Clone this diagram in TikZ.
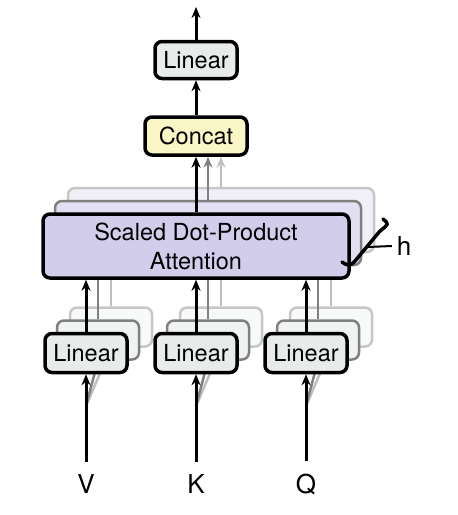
\documentclass[tikz,border=0pt]{standalone}
\usepackage{fontspec}
\setmainfont{TeX Gyre Heros}
\usetikzlibrary{calc,arrows.meta}
\definecolor{attfill}{HTML}{D1CDEB}
\definecolor{linfill}{HTML}{E7ECEB}
\definecolor{catfill}{HTML}{FBF6C5}
% the two copies that stand behind a box
\newcommand{\shadows}[4]{%
 \node[#3,layerc,fill=#4!30!white] (#1c) at ($(#2)+(25,-26)$) {};%
 \node[#3,layerb,fill=#4!65!white] (#1b) at ($(#2)+(12,-13)$) {};%
}
\tikzset{
 box/.style={draw=black,line width=3.5pt,rounded corners=7pt,inner sep=0pt,
  align=center,font=\fontsize{23.5}{29}\selectfont},
 linbox/.style={box,fill=linfill,minimum width=82pt,minimum height=39pt},
 attbox/.style={box,fill=attfill,minimum width=306pt,minimum height=64pt},
 catbox/.style={box,fill=catfill,minimum width=102pt,minimum height=38pt},
 layerb/.style={draw=black!50,line width=2.5pt},
 layerc/.style={draw=black!22,line width=2.5pt},
 lineb/.style={draw=black!50,line width=2.5pt},
 linec/.style={draw=black!25,line width=2.5pt},
 label/.style={font=\fontsize{26}{30}\selectfont},
}

\begin{document}
\begin{tikzpicture}[x=1pt,y=-1pt,line width=3pt,>={Stealth[length=11pt,width=9pt]}]
 \useasboundingbox (0,0) rectangle (458,515);
 % heads behind
 \shadows{att}{196,246}{attbox}{attfill}
 \shadows{linv}{86,353}{linbox}{linfill}
 \shadows{link}{196,353}{linbox}{linfill}
 \shadows{linq}{306,353}{linbox}{linfill}
 \coordinate (vs) at (86,406);
 \coordinate (ks) at (196,406);
 \coordinate (qs) at (306,406);
 \draw[linec] (linvc) -- (linvc |- attb.south);
 \draw[linec] (linkc) -- (linkc |- attb.south);
 \draw[linec] (linqc) -- (linqc |- attb.south);
 \draw[lineb] (linvb) -- (linvb |- attb.south);
 \draw[lineb] (linkb) -- (linkb |- attb.south);
 \draw[lineb] (linqb) -- (linqb |- attb.south);
 \draw[linec] (vs) -- (linvc.south);
 \draw[linec] (ks) -- (linkc.south);
 \draw[linec] (qs) -- (linqc.south);
 \draw[lineb] (vs) -- (linvb.south);
 \draw[lineb] (ks) -- (linkb.south);
 \draw[lineb] (qs) -- (linqb.south);
 % front boxes
 \node[attbox] (att) at (196,246) {Scaled Dot-Product\\Attention};
 \node[linbox] (linv) at (86,353) {Linear};
 \node[linbox] (link) at (196,353) {Linear};
 \node[linbox] (linq) at (306,353) {Linear};
 \node[catbox] (cat) at (196,136) {Concat};
 \node[linbox,minimum height=37pt] (out) at (196,60) {Linear};
 \coordinate (top) at (196,7);
 \node[label] (v) at (86,484) {V};
 \node[label] (k) at (196,484) {K};
 \node[label] (q) at (306,484) {Q};
 % arrows
 \draw[->,shorten <=8pt] (v) -- (linv);
 \draw[->,shorten <=8pt] (k) -- (link);
 \draw[->,shorten <=8pt] (q) -- (linq);
 \draw[->] (linv) -- (linv |- att.south);
 \draw[->] (link) -- (link |- att.south);
 \draw[->] (linq) -- (linq |- att.south);
 \draw[->,linec] (attc) -- (attc |- cat.south);
 \draw[->,lineb] (attb) -- (attb |- cat.south);
 \draw[->] (att) -- (cat);
 \draw[->] (cat) -- (out);
 \draw[->] (out) -- (top);
 % h brace
 \draw[line width=3.5pt,line cap=round] (383,219) .. controls (389,224) .. (380,231) -- (355,261)
  .. controls (350,267) and (346,265) .. (342,262);
 \node[label] (h) at (404,246) {h};
 \coordinate (hk) at (368,247);
 \draw[line width=2pt] (hk) -- (h.west);
\end{tikzpicture}
\end{document}
